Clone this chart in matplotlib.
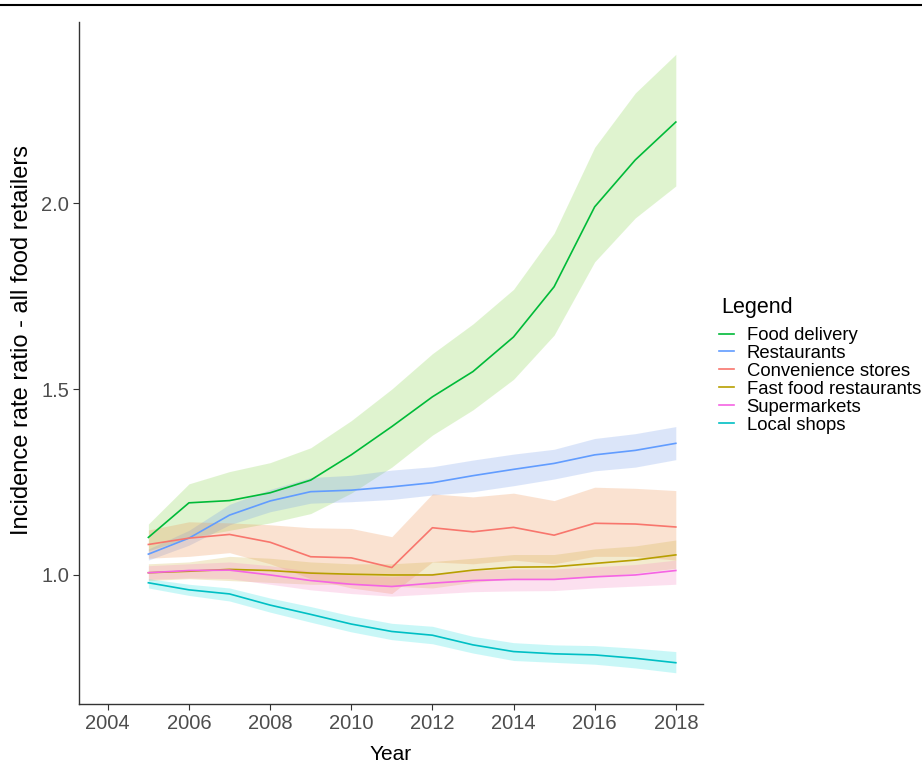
import matplotlib.pyplot as plt
from matplotlib.lines import Line2D

plt.rcParams['font.family'] = ['Liberation Sans', 'DejaVu Sans']

years = list(range(2005, 2019))

# incidence rate ratios with 95% CI bands, one block per retailer type
food_delivery = [1.101, 1.194, 1.200, 1.221, 1.255, 1.323, 1.399, 1.479, 1.547, 1.640, 1.775, 1.990, 2.116, 2.218]
food_delivery_hi = [1.137, 1.245, 1.278, 1.302, 1.342, 1.415, 1.500, 1.595, 1.675, 1.768, 1.919, 2.150, 2.296, 2.400]
food_delivery_lo = [1.065, 1.100, 1.120, 1.140, 1.165, 1.220, 1.290, 1.376, 1.444, 1.526, 1.645, 1.842, 1.960, 2.046]

restaurants = [1.056, 1.099, 1.161, 1.199, 1.224, 1.228, 1.237, 1.248, 1.267, 1.284, 1.300, 1.323, 1.335, 1.354]
restaurants_hi = [1.070, 1.120, 1.190, 1.230, 1.262, 1.268, 1.282, 1.291, 1.309, 1.325, 1.338, 1.367, 1.380, 1.399]
restaurants_lo = [1.040, 1.080, 1.135, 1.170, 1.193, 1.197, 1.203, 1.215, 1.224, 1.240, 1.258, 1.280, 1.290, 1.310]

convenience = [1.082, 1.099, 1.109, 1.088, 1.049, 1.046, 1.020, 1.127, 1.116, 1.128, 1.107, 1.139, 1.137, 1.129]
convenience_hi = [1.121, 1.143, 1.140, 1.135, 1.127, 1.125, 1.103, 1.218, 1.210, 1.220, 1.200, 1.236, 1.233, 1.227]
convenience_lo = [1.045, 1.050, 1.060, 1.030, 0.990, 0.965, 0.950, 1.035, 1.030, 1.040, 1.030, 1.050, 1.050, 1.040]

fast_food = [1.006, 1.010, 1.015, 1.012, 1.005, 1.002, 1.000, 1.000, 1.013, 1.021, 1.022, 1.031, 1.040, 1.054]
fast_food_hi = [1.030, 1.035, 1.050, 1.045, 1.035, 1.030, 1.030, 1.036, 1.045, 1.055, 1.055, 1.070, 1.078, 1.094]
fast_food_lo = [0.985, 0.990, 0.985, 0.980, 0.975, 0.975, 0.970, 0.965, 0.980, 0.990, 0.990, 0.995, 1.005, 1.018]

supermarkets = [1.006, 1.012, 1.013, 1.000, 0.985, 0.975, 0.969, 0.978, 0.985, 0.988, 0.988, 0.995, 1.000, 1.012]
supermarkets_hi = [1.025, 1.030, 1.035, 1.025, 1.010, 1.000, 0.995, 1.005, 1.012, 1.016, 1.016, 1.022, 1.028, 1.040]
supermarkets_lo = [0.988, 0.992, 0.990, 0.975, 0.960, 0.950, 0.943, 0.949, 0.955, 0.957, 0.958, 0.965, 0.970, 0.975]

local_shops = [0.979, 0.960, 0.949, 0.919, 0.894, 0.868, 0.848, 0.838, 0.812, 0.794, 0.788, 0.785, 0.776, 0.764]
local_shops_hi = [0.990, 0.975, 0.965, 0.938, 0.915, 0.890, 0.870, 0.862, 0.835, 0.818, 0.812, 0.810, 0.803, 0.794]
local_shops_lo = [0.965, 0.945, 0.930, 0.900, 0.873, 0.847, 0.826, 0.815, 0.790, 0.770, 0.765, 0.760, 0.750, 0.737]

labels = ["Food delivery", "Restaurants", "Convenience stores",
          "Fast food restaurants", "Supermarkets", "Local shops"]
line_cols = ["#00BA38", "#619CFF", "#F8766D", "#B79F00", "#F564E3", "#00BFC4"]
band_cols = ["#83D343", "#739BEB", "#EF8F4B", "#D0B040", "#F787C3", "#2BE3E3"]

series = [
    (food_delivery, food_delivery_lo, food_delivery_hi),
    (restaurants, restaurants_lo, restaurants_hi),
    (convenience, convenience_lo, convenience_hi),
    (fast_food, fast_food_lo, fast_food_hi),
    (supermarkets, supermarkets_lo, supermarkets_hi),
    (local_shops, local_shops_lo, local_shops_hi),
]

fig = plt.figure(figsize=(9.22, 7.63), dpi=100)
ax = fig.add_axes([79 / 922, 1 - 704 / 763, 624 / 922, 682 / 763])

for (mid, lo, hi), bc in zip(series, band_cols):
    ax.fill_between(years, lo, hi, color=bc, alpha=0.25, linewidth=0)
for (mid, lo, hi), lc, lab in zip(series, line_cols, labels):
    ax.plot(years, mid, color=lc, linewidth=1.2, label=lab)

ax.set_xlim(2003.29, 2018.67)
ax.set_ylim(0.653, 2.487)
ax.set_xticks(range(2004, 2019, 2))
ax.set_yticks([1.0, 1.5, 2.0])
ax.set_yticklabels(["1.0", "1.5", "2.0"])

for side in ["top", "right"]:
    ax.spines[side].set_visible(False)
for side in ["left", "bottom"]:
    ax.spines[side].set_color("#333333")
    ax.spines[side].set_linewidth(1.0)
ax.tick_params(axis="both", colors="#333333", labelcolor="#4D4D4D",
               labelsize=14.5, length=4, width=0.8, pad=3)

ax.set_xlabel("Year", fontsize=15, labelpad=9, color="black")
ax.set_ylabel("Incidence rate ratio - all food retailers", fontsize=17,
              color="black")
ax.yaxis.set_label_coords(-0.0737, 0.533)

leg = ax.legend(loc="upper left", bbox_to_anchor=(719 / 922, 1 - 327 / 763),
                bbox_transform=fig.transFigure, frameon=False,
                fontsize=13.3, handlelength=0.8, handletextpad=0.7,
                labelspacing=0.05, borderpad=0, borderaxespad=0)
fig.text(721 / 922, 1 - 308 / 763, "Legend", fontsize=15.5,
         ha="left", va="center")

# rule across the top of the page
fig.add_artist(Line2D([0, 1], [1 - 5 / 763, 1 - 5 / 763], color="black",
                      linewidth=1.5, transform=fig.transFigure))

fig.savefig("out.png", dpi=100)
